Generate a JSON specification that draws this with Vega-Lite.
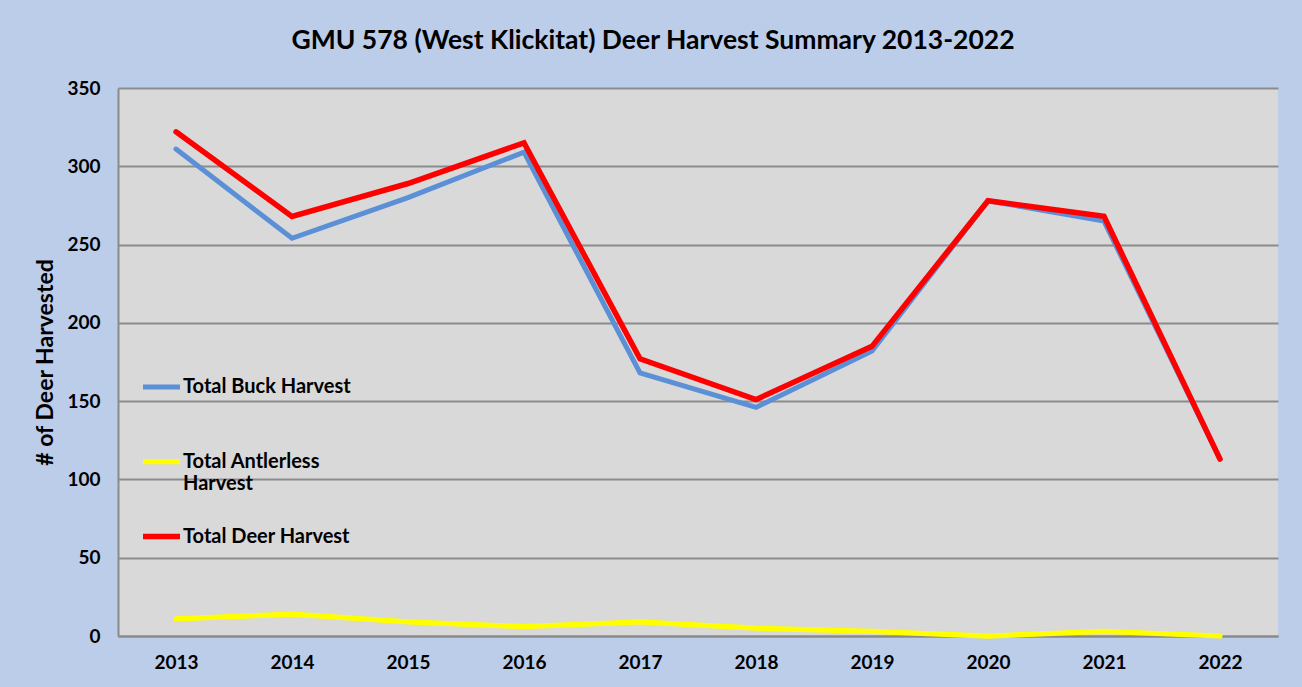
{
  "$schema": "https://vega.github.io/schema/vega-lite/v6.json",
  "width": 1160,
  "height": 548,
  "autosize": {"type": "none"},
  "padding": {"left": 118, "top": 88, "right": 24, "bottom": 51},
  "background": "#bccdea",
  "title": {
    "text": "GMU 578 (West Klickitat) Deer Harvest Summary 2013-2022",
    "anchor": "middle",
    "dx": -45,
    "baseline": "alphabetic",
    "offset": 4,
    "font": "Lato",
    "fontSize": 26.5,
    "fontWeight": "bold",
    "color": "#000000"
  },
  "config": {
    "font": "Lato",
    "view": {"fill": "#d9d9d9", "stroke": null}
  },
  "data": {
    "values": [
      {"year": "2013", "series": "Total Buck Harvest", "value": 311},
      {"year": "2014", "series": "Total Buck Harvest", "value": 254},
      {"year": "2015", "series": "Total Buck Harvest", "value": 280},
      {"year": "2016", "series": "Total Buck Harvest", "value": 309},
      {"year": "2017", "series": "Total Buck Harvest", "value": 168},
      {"year": "2018", "series": "Total Buck Harvest", "value": 146},
      {"year": "2019", "series": "Total Buck Harvest", "value": 182},
      {"year": "2020", "series": "Total Buck Harvest", "value": 278},
      {"year": "2021", "series": "Total Buck Harvest", "value": 265},
      {"year": "2022", "series": "Total Buck Harvest", "value": 113},
      {"year": "2013", "series": "Total Antlerless Harvest", "value": 11},
      {"year": "2014", "series": "Total Antlerless Harvest", "value": 14},
      {"year": "2015", "series": "Total Antlerless Harvest", "value": 9},
      {"year": "2016", "series": "Total Antlerless Harvest", "value": 6},
      {"year": "2017", "series": "Total Antlerless Harvest", "value": 9},
      {"year": "2018", "series": "Total Antlerless Harvest", "value": 5},
      {"year": "2019", "series": "Total Antlerless Harvest", "value": 3},
      {"year": "2020", "series": "Total Antlerless Harvest", "value": 0},
      {"year": "2021", "series": "Total Antlerless Harvest", "value": 3},
      {"year": "2022", "series": "Total Antlerless Harvest", "value": 0},
      {"year": "2013", "series": "Total Deer Harvest", "value": 322},
      {"year": "2014", "series": "Total Deer Harvest", "value": 268},
      {"year": "2015", "series": "Total Deer Harvest", "value": 289},
      {"year": "2016", "series": "Total Deer Harvest", "value": 315},
      {"year": "2017", "series": "Total Deer Harvest", "value": 177},
      {"year": "2018", "series": "Total Deer Harvest", "value": 151},
      {"year": "2019", "series": "Total Deer Harvest", "value": 185},
      {"year": "2020", "series": "Total Deer Harvest", "value": 278},
      {"year": "2021", "series": "Total Deer Harvest", "value": 268},
      {"year": "2022", "series": "Total Deer Harvest", "value": 113}
    ]
  },
  "mark": {"type": "line", "strokeCap": "round", "strokeJoin": "miter", "clip": false},
  "encoding": {
    "x": {
      "field": "year",
      "type": "ordinal",
      "scale": {"type": "point", "padding": 0.5},
      "axis": {
        "title": null,
        "labelAngle": 0,
        "labelFontSize": 19,
        "labelFontWeight": "bold",
        "labelColor": "#000000",
        "labelPadding": 17,
        "ticks": false,
        "domain": true,
        "domainColor": "#8a8a8a",
        "domainWidth": 2,
        "grid": false
      }
    },
    "y": {
      "field": "value",
      "type": "quantitative",
      "scale": {"domain": [0, 350], "nice": false},
      "axis": {
        "title": "# of Deer Harvested",
        "titleFontSize": 23,
        "titleFontWeight": "bold",
        "titleColor": "#000000",
        "titlePadding": 9,
        "values": [0, 50, 100, 150, 200, 250, 300, 350],
        "labelFontSize": 19,
        "labelFontWeight": "bold",
        "labelColor": "#000000",
        "labelPadding": 18,
        "ticks": false,
        "domain": true,
        "domainColor": "#8a8a8a",
        "domainWidth": 2,
        "grid": true,
        "gridColor": "#8c8c8c",
        "gridWidth": 2
      }
    },
    "color": {
      "field": "series",
      "type": "nominal",
      "sort": ["Total Buck Harvest", "Total Antlerless Harvest", "Total Deer Harvest"],
      "scale": {
        "domain": ["Total Buck Harvest", "Total Antlerless Harvest", "Total Deer Harvest"],
        "range": ["#5b8fd6", "#ffff00", "#ff0000"]
      },
      "legend": {
        "title": null,
        "orient": "none",
        "legendX": 22,
        "legendY": 278,
        "padding": 0,
        "symbolType": "stroke",
        "symbolSize": 1369,
        "symbolStrokeWidth": 6,
        "labelFontSize": 20,
        "labelFontWeight": "bold",
        "labelColor": "#000000",
        "labelOffset": 0,
        "labelLimit": 400,
        "rowPadding": 21,
        "labelExpr": "datum.label == 'Total Antlerless Harvest' ? ['Total Antlerless', 'Harvest'] : [datum.label, ' ']"
      }
    },
    "strokeWidth": {
      "field": "series",
      "type": "nominal",
      "scale": {
        "domain": ["Total Buck Harvest", "Total Antlerless Harvest", "Total Deer Harvest"],
        "range": [5, 5.5, 7]
      },
      "legend": null
    }
  }
}
